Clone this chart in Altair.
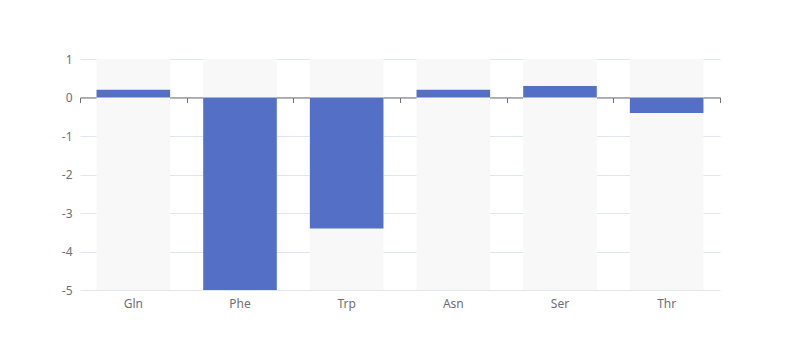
import altair as alt
import pandas as pd

categories = ["Gln", "Phe", "Trp", "Asn", "Ser", "Thr"]
values = [0.2, -5, -3.4, 0.2, 0.3, -0.4]
y_min, y_max = -5, 1
y_ticks = [1, 0, -1, -2, -3, -4, -5]

df = pd.DataFrame({"cat": categories, "val": values, "lo": y_min, "hi": y_max, "zero": 0})

FONT = "Noto Sans"
LABEL = "#6E7079"

xscale = alt.Scale(domain=categories, paddingInner=0, paddingOuter=0)
yscale = alt.Scale(domain=[y_min, y_max], nice=False, zero=False)
y_axis = alt.Axis(values=y_ticks, domain=False, ticks=False, labelColor=LABEL,
                  labelFont=FONT, labelFontSize=12, labelPadding=8,
                  labelOverlap=False, labelExpr="'' + datum.value",
                  gridColor="#E0E6F1", gridWidth=1, title=None)

base = alt.Chart(df)

bg = base.mark_bar(color="#F8F8F8", width=alt.RelativeBandSize(0.69)).encode(
    x=alt.X("cat:N", scale=xscale, sort=categories, title=None,
            axis=alt.Axis(domain=False, ticks=False, labelAngle=0, labelColor=LABEL,
                          labelFont=FONT, labelFontSize=12, labelPadding=8, grid=False)),
    y=alt.Y("lo:Q", scale=yscale, title=None, axis=y_axis),
    y2="hi:Q",
)

bars = base.mark_bar(color="#5470C6", width=alt.RelativeBandSize(0.69)).encode(
    x=alt.X("cat:N", scale=xscale, sort=categories, axis=None),
    y=alt.Y("zero:Q", scale=yscale, title=None, axis=y_axis),
    y2="val:Q",
)

zero_axis = base.mark_bar(opacity=0).encode(
    x=alt.X("cat:N", scale=xscale, sort=categories, title=None,
            axis=alt.Axis(orient="bottom", offset=-192.5, labels=False, grid=False,
                          domain=True, domainColor="#6E7079", domainWidth=1,
                          ticks=True, tickColor="#6E7079", tickSize=5, tickBand="extent")),
    y=alt.Y("zero:Q", scale=yscale, title=None, axis=y_axis),
)

chart = alt.layer(bg, bars, zero_axis).resolve_axis(x="independent").properties(
    width=640, height=231,
    autosize=alt.AutoSizeParams(type="none"),
    padding={"left": 72, "top": 51, "right": 72, "bottom": 70},
).configure_view(stroke=None)

chart.save("out.html", embed_options={"renderer": "svg", "actions": False})
